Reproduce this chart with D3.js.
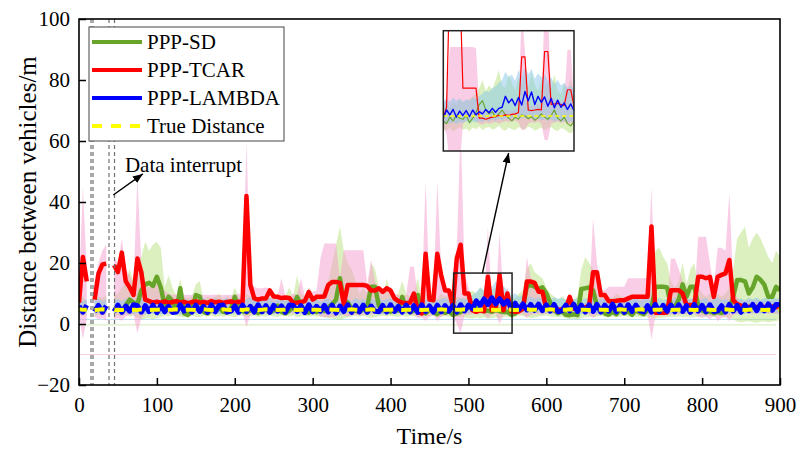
<!DOCTYPE html>
<html><head><meta charset="utf-8">
<script src="https://cdn.jsdelivr.net/npm/d3@7"></script>
<style>
body{margin:0;background:#fff}
svg{display:block}
text{font-family:"Liberation Serif","Times New Roman",serif;fill:#000}
</style>
</head><body>
<svg id="chart" width="797" height="450"></svg>
<script>
// ---------------- DATA ----------------
const time = d3.range(0, 901, 5);           // seconds, 5 s grid
const seriesNames = ["PPP-SD", "PPP-TCAR", "PPP-LAMBDA", "True Distance"];
const xTicks = [0, 100, 200, 300, 400, 500, 600, 700, 800, 900];
const yTicks = [-20, 0, 20, 40, 60, 80, 100];

const sdValues = [
5.0,4.5,5.2,null,4.8,5.5,4.6,5.1,null,4.4,
5.0,4.2,6.0,8.0,7.0,6.5,11.0,13.0,13.5,12.5,
15.5,12.0,6.0,8.9,7.5,4.0,11.7,3.5,3.0,4.5,
9.5,9.0,4.0,3.5,4.8,4.2,5.5,4.0,3.8,5.0,
8.9,5.0,4.2,3.8,4.5,5.2,3.6,4.3,5.0,3.8,
4.5,6.0,4.0,3.5,4.4,5.5,8.9,6.0,4.2,3.7,
4.6,3.9,5.0,4.2,5.5,6.5,8.0,15.0,8.0,7.0,
5.0,4.3,4.0,4.8,5.5,12.2,12.2,6.0,4.5,5.2,
4.0,5.0,4.4,8.9,5.0,3.8,4.5,9.5,4.2,3.5,
4.8,4.0,3.2,4.5,3.6,4.2,3.0,3.5,4.0,4.5,
5.5,6.8,4.8,4.6,4.2,4.4,4.0,4.6,4.2,3.9,
4.0,3.0,3.4,4.5,5.5,12.2,12.8,12.2,11.5,12.0,
10.0,7.0,4.5,3.5,4.2,3.0,2.9,3.2,2.9,11.5,
11.7,12.0,11.0,6.0,4.5,3.5,3.0,4.0,3.2,4.8,
3.5,4.2,3.0,4.5,3.8,3.2,4.6,5.0,12.2,12.2,
12.2,12.0,6.0,5.5,8.0,13.0,9.0,12.2,12.2,6.0,
4.5,3.8,4.2,3.5,4.0,3.6,4.4,5.0,9.0,14.4,
14.4,14.0,10.0,12.0,15.5,14.5,12.8,8.9,8.9,12.2,
11.0];

const tcarValues = [
7,22,14,null,8,16.5,19.5,19.8,null,19.3,
17,23.4,14,12,9.5,21.5,17,8,7.5,7,
7.3,7.0,7.4,6.9,7.2,7.5,7.0,7.3,6.8,7.2,
7.4,7.0,7.2,6.9,7.5,7.1,7.3,6.9,7.2,7.4,
7.0,7.3,7.1,42,12.8,8.4,8.0,8.4,8.4,11,
9,8.9,8.5,8.7,8.5,7,7,7.2,7.5,10.5,
8,8.9,8.9,9,12.8,13.8,13.8,13.5,6.5,12.8,
12.8,12.8,12.8,12.8,12.5,11,11,11.7,10.5,11.7,
11,8.4,7.5,7,6.8,7,10,4,3.5,23,
8,7.8,23,16,11,11,6,21.5,26,10,
10,4.5,4,4.5,4.2,15.5,4.5,4.8,16,4.5,
10,4.2,4,4.2,5,13.9,13.9,13.5,10.6,10.6,
5,4.6,4.8,4.6,4.8,5,8.9,5,5.2,5,
5.5,6,17,17,9.5,9.5,7.5,7.5,7.6,7.8,
7.8,8.4,8.9,8.9,8.9,8.9,8.9,32,3.7,3.7,
3.7,3.8,11.1,11.1,11.1,10,6.2,6.2,6.2,15.5,
15.5,15,15.5,8.9,15.5,16.1,16.6,21,7.8,6.5,
6,5.8,5.6,5.7,5.5,5.8,5.6,5.5,5.7,5.6,
5.6];

const lambdaValues = [
5.9,3.9,6.2,null,4.0,6.1,3.8,6.0,null,4.1,
6.2,3.8,5.9,4.2,6.3,6.0,3.9,6.0,4.1,6.2,
3.7,6.1,4.0,5.8,3.8,3.9,6.3,4.2,5.9,3.9,
6.2,4.1,5.8,3.8,6.3,4.0,6.1,6.2,3.9,4.2,
5.9,3.8,6.2,4.1,5.8,3.9,6.3,4.0,6.0,3.8,
6.1,4.2,5.9,3.8,6.2,6.1,4.1,6.0,3.7,6.3,
4.0,5.8,4.2,6.1,3.9,6.2,3.6,5.9,4.1,6.3,
3.8,6.0,4.0,6.2,3.8,5.9,4.2,4.0,6.1,3.9,
6.3,4.1,5.8,3.9,6.2,4.0,6.0,3.8,6.3,4.1,
5.9,3.9,6.2,4.0,6.0,4.2,6.1,3.9,6.3,4.3,
6.2,5.0,7.6,6.0,8.2,6.4,8.6,6.6,8.3,6.5,
7.6,5.2,6.8,4.8,6.6,4.6,6.4,4.5,6.5,4.4,
6.3,4.2,6.4,4.0,4.3,6.2,4.3,6.5,4.1,6.2,
3.9,6.3,4.1,6.4,3.9,6.2,4.2,6.5,4.0,6.1,
3.8,6.3,4.1,6.2,4.3,4.0,6.0,3.9,6.4,4.0,
6.1,4.2,6.2,4.0,6.3,4.1,6.0,3.8,6.4,4.2,
6.1,4.0,6.3,4.1,4.3,6.0,3.9,6.4,4.2,6.1,
3.8,6.3,4.4,6.4,4.4,6.5,4.3,6.6,4.5,6.4,
6.3];

const trueValues = [
4.8,4.7,4.7,null,4.6,4.7,4.8,4.7,null,4.6,
4.7,4.6,4.8,4.7,4.7,4.6,4.8,4.7,4.6,4.7,
4.7,4.8,4.6,4.7,4.7,4.8,4.7,4.6,4.7,4.7,
4.6,4.7,4.8,4.7,4.6,4.7,4.7,4.8,4.7,4.6,
4.7,4.7,4.6,4.8,4.7,4.7,4.6,4.7,4.8,4.7,
4.7,4.6,4.7,4.7,4.8,4.7,4.6,4.7,4.7,4.8,
4.7,4.7,4.6,4.7,4.8,4.7,4.7,4.6,4.7,4.7,
4.8,4.7,4.6,4.7,4.7,4.8,4.7,4.7,4.6,4.7,
4.7,4.8,4.7,4.6,4.7,4.7,4.8,4.7,4.6,4.7,
4.7,4.6,4.7,4.8,4.7,4.7,4.6,4.7,4.7,4.8,
4.7,4.7,4.6,4.7,4.8,4.7,4.7,4.6,4.7,4.7,
4.8,4.7,4.6,4.7,4.7,4.8,4.7,4.7,4.6,4.7,
4.7,4.8,4.7,4.6,4.7,4.7,4.8,4.7,4.6,4.7,
4.7,4.6,4.7,4.8,4.7,4.7,4.6,4.7,4.7,4.8,
4.7,4.7,4.6,4.7,4.8,4.7,4.7,4.6,4.7,4.7,
4.8,4.7,4.6,4.7,4.7,4.8,4.7,4.7,4.6,4.7,
4.7,4.8,4.7,4.6,4.7,4.7,4.8,4.7,4.6,4.7,
4.7,4.6,4.7,4.8,4.7,4.7,4.6,4.7,4.7,4.8,
4.7];

// uncertainty envelopes (upper / lower bounds)
const sdUpper = [
8,9,7.5,null,8,9,8.5,9.5,null,9,
10,12,14,18,14,20,22,27,24,26,
27,25,12,16,12,9,15,9,8.5,9,
13,14,8,9,8.5,9,10,8,9,8.5,
12,9,8,10,9,8.5,9,8,10,8.5,
9,10,8,9,12,9,16,10,9,12,
9,10,9,12,14,20,26,32,24,20,
18,14,10,12,10,20,18,12,9,15,
10,9,10,14,10,9,10,15,9,10,
9,10,8,10,9,10,8,9,8.5,9,
10,11,10,12,11,13,11,12,11,10,
10,9,8.5,10,11,18,20,17,16,15,
12,10,9,8,9,8,7.5,8,9,18,
22,20,18,10,9,8,9,8.5,10,9,
9,8.5,10,9,8,9,10,12,24,25,
22,20,14,12,14,20,13,18,20,12,
10,9,10,9,10,9,10,12,18,28,
30,32,25,28,30,28,25,22,20,24,
22];
const sdLower = [
3,2.8,3,null,2.5,3,2.8,3.2,null,2.9,
2.8,2.5,3,2.5,2.8,2,1.5,1.8,2,1.5,
2,2.2,2.8,2.5,3,2.6,2.4,2.2,2.1,2.6,
2.4,2.2,2.7,2.5,2.8,2.3,2.6,2.4,2.7,2.5,
2.3,2.6,2.8,2.4,2.5,2.7,2.2,2.6,2.4,2.8,
2.5,2.3,2.7,2.6,2.4,2.8,2.2,2.5,2.7,2.4,
2.6,2.4,2.5,2.2,2.0,1.8,1.5,1.2,1.8,2.2,
2.5,2.7,2.4,2.6,2.3,2.0,2.2,2.5,2.7,2.4,
2.6,2.5,2.3,2.7,2.4,2.6,2.5,2.2,2.4,2.6,
2.4,2.7,2.5,2.3,2.6,2.4,2.2,2.5,2.3,2.1,
2.0,1.8,2.1,1.9,2.2,1.8,2.0,2.1,1.9,2.2,
2.5,2,2.4,2.8,2.6,2.3,2,2.1,2.4,2.6,
2.8,2.5,2.4,2.2,2.4,1.8,1.6,1.7,1.5,2,
2.2,2.4,2.3,2.5,2.6,2.4,2.2,2.5,2.3,2.4,
2.6,2.3,2.5,2.4,2.2,2.5,2.3,2.1,1.8,2.0,
2.1,2.3,2.4,2.2,2.5,2.3,2.4,2.1,2.2,2.4,
2.5,2.4,2.6,2.3,2.5,2.4,2.2,2,1.5,0.8,
0.5,0.8,1,0.6,0.4,0.7,0.9,0.5,0.8,1,
1.2];
const tcarUpper = [
12,45,18,null,14,20,24,26,null,22,
20,28,18,16,13,48,20,13,12,12.5,
13,12.5,11,10,9.5,9.8,9.5,9.5,9.6,9.5,
9.5,9.5,9.6,9.5,9.5,9.7,9.5,9.5,9.6,9.5,
9.5,10,9,60,14,12.2,11.7,11.7,12,11.7,
9.5,9.2,15,9,9,10,9.5,15,9,12,
10.5,11,21.5,26.4,26.4,26.4,26.4,15,24.2,24.2,
24.2,24.2,24.2,24.2,13,21,14,12,11,12.5,
12,10,9.5,9,9.5,18.8,18.8,9,8,47,
10,9,47,18,12,12,8,24,65,17,
12,7,6.5,7,7,32,7,7.5,30,8,
12,7,6.5,7,7.5,22,15,14.5,12,11,
6,5.5,6,5.8,6,6,10,6.5,6.5,6.5,
7,8,34.6,20,11,11,12.2,12.2,12.2,12.2,
12.2,15,15,15,15,15,15,45,5.5,5.5,
5.5,6,21.5,21.5,18,14,8,8,8,28.6,
28.6,28.6,20,12,25,25,24,42.8,12,8.5,
8,7.5,8,7.6,8,7.5,7.8,7.6,7.5,7.8,
7.8];
const tcarLower = [
3,-5,2,null,2.5,1.5,2,1,null,1.5,
2,1,2.5,3,3,-3,2,3.2,3.4,3.5,
3.5,3.4,3.6,3.3,3.5,3.7,3.4,3.6,3.5,3.3,
3.6,3.4,3.5,3.7,3.3,3.5,3.6,3.4,3.5,3.6,
3.5,3.4,3.6,-1,3,3.2,3.5,3.4,3.3,3.2,
3.4,3.5,3.3,3.5,3.6,3.4,3.5,3.3,3.4,3.2,
3.5,3.3,2.5,2.2,2.2,2.3,2.4,3,2.8,2.5,
2.8,3,2.8,3,3.2,3,3.3,3.4,3.2,3.5,
3.2,3.4,3.5,3.3,3.4,3.1,3,2,2.2,1,
2.5,3,1,2.5,3,3.2,3,0,-3,3,
3,3.2,3.1,3.3,3.2,1.8,3.1,3.3,0,3.2,
3,3.2,3.3,3.1,3.3,2,3,3.2,3.3,3.1,
3.3,3.5,3.2,3.4,3.3,3.5,3.2,3.4,3.3,3.5,
3.2,3,2,3.1,3.3,3.2,3.4,3.3,3.2,3.5,
3.3,3.2,3.4,3.3,3.1,3.2,3.3,-5,2.5,2.8,
2.8,3,3.2,3,3.1,3.3,3.2,3.4,3.3,2.5,
2,2.5,1.5,2.8,1,2,2.5,1,3,3.3,
3.4,3.5,3.3,3.5,3.4,3.6,3.5,3.4,3.5,3.3,
3.4];
const lambdaUpper = [
8,7.5,8.2,null,7.6,8.4,7.4,8.2,null,7.8,
8.3,7.4,8.1,8.6,7.5,8.0,8.5,7.4,8.2,7.7,
8.3,7.3,7.9,8.5,7.6,8.1,7.2,8.4,7.8,7.4,
8.2,7.7,8.6,7.3,8.0,8.3,7.5,8.0,8.5,7.6,
8.0,8.4,7.3,8.1,8.6,7.6,7.5,8.3,7.9,8.5,
7.3,8.1,8.4,7.5,8.0,8.6,7.4,8.2,7.7,8.3,
7.8,8.5,7.2,8.0,8.3,7.5,8.4,7.1,8.0,8.3,
7.5,8.5,7.8,8.2,7.3,8.3,7.9,8.6,7.6,8.1,
8.4,7.4,8.0,8.4,7.7,8.5,7.5,8.2,8.7,7.8,
8.1,8.5,7.6,8.2,8.5,7.9,8.2,7.7,8.5,8.0,
8.5,9.5,10.5,12,11,13.5,12,14,11.5,12.5,
11,9.5,10,9,9.5,8.5,9,8.2,8.8,8.3,
8.6,8.0,8.8,8.2,8.5,7.9,8.7,8.1,8.4,7.7,
8.5,8.0,8.7,7.6,8.3,8.1,8.6,7.9,8.4,7.4,
8.5,8.0,8.2,8.7,7.7,8.1,8.6,7.3,8.0,8.5,
7.8,8.3,7.6,8.6,8.0,7.4,8.4,8.2,8.7,7.7,
8.1,8.5,7.2,8.2,8.6,7.9,8.3,7.5,8.7,8.0,
8.4,7.8,8.6,8.1,8.8,7.9,8.5,8.2,8.9,8.3,
8.5];
const lambdaLower = [
3.6,3.2,3.9,null,3.4,3.8,3.1,3.7,null,3.3,
3.9,3.0,3.6,4.0,3.2,3.5,3.9,3.1,3.6,3.3,
3.8,3.0,3.4,3.9,3.2,3.6,2.9,3.8,3.4,3.1,
3.7,3.3,3.9,3.0,3.5,3.8,3.1,3.6,3.9,3.2,
3.5,3.8,3.0,3.6,3.9,3.3,3.1,3.7,3.4,3.9,
3.0,3.6,3.8,3.2,3.5,3.9,3.0,3.6,3.3,3.7,
3.4,3.9,2.8,3.6,3.7,3.2,3.8,2.7,3.5,3.7,
3.1,3.9,3.4,3.6,3.0,3.7,3.5,3.9,3.2,3.6,
3.8,3.0,3.5,3.7,3.3,3.9,3.1,3.6,3.9,3.4,
3.6,3.8,3.2,3.6,3.9,3.4,3.6,3.2,3.8,3.5,
3.6,3.9,4.1,4.4,4.0,4.6,4.2,4.8,4.1,4.4,
4.0,3.8,4.0,3.7,3.9,3.6,3.8,3.5,3.9,3.6,
3.8,3.4,3.9,3.6,3.8,3.3,3.9,3.5,3.7,3.2,
3.8,3.5,3.9,3.2,3.7,3.5,3.8,3.3,3.7,3.1,
3.8,3.4,3.6,3.9,3.3,3.5,3.8,3.0,3.5,3.8,
3.3,3.7,3.2,3.8,3.5,3.1,3.7,3.6,3.9,3.3,
3.6,3.8,3.0,3.6,3.9,3.4,3.7,3.2,3.9,3.5,
3.7,3.3,3.8,3.6,3.9,3.4,3.8,3.6,4.0,3.7,
3.8];

// faint constant levels of the envelopes
const refLevels = [
  {v: 1.5, key: "lambda"},
  {v: -0.3, key: "sd"},
  {v: -10, key: "tcar"}
];
// data interruption markers (s)
const interruptTimes = [15.4, 18, 38.5, 45.6];

// zoomed inset (2 s grid, 480-560 s)
const insetTime = d3.range(480, 561, 2);
const insetLambda = [4.0,5.5,4.6,5.6,4.2,5.3,4.5,5.4,4.3,5.5,4.6,5.2,4.8,5.6,5.0,5.8,5.1,5.8,6.0,8.0,6.8,7.5,6.3,7.8,6.4,8.9,7.2,8.8,6.5,8.0,6.9,7.9,6.2,7.6,5.9,7.3,6.0,6.8,5.6,6.6,5.4];
const insetTcar = [4,6,30,30,30,30,9.5,9.5,9.5,9.5,9.5,4.0,4.0,3.8,4.0,4.2,4.3,4.5,4.4,4.6,4.5,4.7,4.8,5.0,15.2,15.2,5.5,5.4,5.5,5.6,5.5,16.2,16.2,6.5,6.6,6.7,6.5,6.3,9.2,9.2,6.2];
const insetSd = [3.5,3.0,4.2,3.5,4.5,4.0,3.8,4.5,3.2,4.0,5.0,6.5,7.2,5.5,4.8,5.2,4.2,4.8,5.5,4.6,4.0,3.5,4.2,3.8,4.6,4.4,3.9,4.3,3.6,4.1,4.8,4.2,3.8,4.5,5.5,4.0,3.5,4.2,3.0,2.6,3.4];
const insetTrue = [4.4,4.4,4.4,4.4,4.4,4.4,4.4,4.4,4.4,4.4,4.4,4.4,4.4,4.4,4.4,4.4,4.4,4.4,4.4,4.4,4.4,4.4,4.4,4.4,4.4,4.4,4.4,4.4,4.4,4.4,4.4,4.4,4.4,4.4,4.4,4.4,4.4,4.4,4.4,4.4,4.4];
const insetTcarUpper = [6,8,17,17,17,17,17,17,17,17,16.8,6,5.5,5.2,5.5,5.0,5.3,5.2,5.4,5.6,5.3,5.4,5.5,6,24,16,6.5,6.2,6.8,6.5,7,24,24,8,7.5,7.2,7,7.5,16.5,16.5,7];
const insetTcarLower = [2.5,1,-5,-5,-5,-5,3,3.5,3.7,3.7,3.5,3.0,2.8,3.2,3.0,3.1,3.3,3.0,3.2,3.5,3.3,3.4,3.6,3.2,1.8,2,3.0,3.3,3.1,3.5,3,0,0,3,3.2,3.4,3.1,3.3,3,3,3.4];
const insetSdUpper = [6,6.5,6,7,6.5,7.5,6.8,7,7.5,8,8.5,9.5,11,9,10,9.2,11,12.8,10,9.5,12,10.5,9,11.5,10,12.2,9.5,12.5,10,9,11,9.8,10.5,9.5,12,9,8.5,10.5,9,11.5,8];
const insetSdLower = [2.0,1.8,2.2,1.5,2.0,2.4,1.9,2.1,1.6,2.3,2.0,2.5,1.8,2.2,2.4,1.9,2.1,2.6,2.0,1.7,2.3,2.0,1.8,2.4,2.1,1.9,2.5,2.2,1.7,2.0,2.3,1.8,2.1,2.4,1.9,1.6,2.2,2.0,1.5,1.2,1.8];
const insetLambdaUpper = [7,7.5,7,7.8,7.2,7.6,7,7.5,7.2,7.8,7.5,8,8.5,9,8.8,9.5,9.8,10.5,11,12.5,11.5,12,10.8,12.8,11.5,13.4,12,13,11.2,12.2,11.5,12,10.8,11.5,10.2,11,10,10.5,9.5,10,9];
const insetLambdaLower = [2.8,3.2,3.0,3.4,2.9,3.3,3.1,3.5,3.0,3.4,3.2,3.6,3.3,3.7,3.4,3.8,3.5,3.9,3.6,4.0,3.7,4.1,3.8,4.2,3.9,4.3,3.8,4.1,3.7,4.0,3.6,3.9,3.5,3.8,3.4,3.7,3.3,3.6,3.2,3.5,3.1];

const zoomWindow = {t: [481, 556], v: [-3, 16.7]};
const insetDomain = {t: [480, 560], v: [-2, 20]};
const interruptNote = {text: "Data interrupt", textAt: [59, 49.8], from: [44, 42.3], to: [82, 49.2]};

// ---------------- STYLE / LAYOUT ----------------
const FONT = '"Liberation Serif","Times New Roman",serif';
const COLORS = {sd: "#67a52a", tcar: "#ff0000", lambda: "#0000ff", truth: "#ffff00"};
const BAND = {sd: "rgba(175,222,110,0.45)", tcar: "rgba(246,155,205,0.5)", lambda: "rgba(135,200,235,0.5)"};
const REF = {sd: "#d3eab3", tcar: "#f9d0e3", lambda: "#b9ddf1"};
const plot = {left: 79, right: 780, top: 19, bottom: 385};
const inset = {x: 443.3, y: 30.7, w: 130.7, h: 120.3};

const svg = d3.select("#chart");
const x = d3.scaleLinear().domain([0, 900]).range([plot.left, plot.right]);
const y = d3.scaleLinear().domain([-20, 100]).range([plot.bottom, plot.top]);

const defs = svg.append("defs");
defs.append("clipPath").attr("id", "plotClip").append("rect")
  .attr("x", plot.left).attr("y", plot.top)
  .attr("width", plot.right - plot.left).attr("height", plot.bottom - plot.top);
defs.append("clipPath").attr("id", "insetClip").append("rect")
  .attr("x", 0).attr("y", 0).attr("width", inset.w).attr("height", inset.h);
defs.append("marker").attr("id", "arrow").attr("viewBox", "0 0 10 8")
  .attr("refX", 10).attr("refY", 4).attr("markerWidth", 10).attr("markerHeight", 8)
  .attr("markerUnits", "userSpaceOnUse").attr("orient", "auto")
  .append("path").attr("d", "M0,0L10,4L0,8Z").attr("fill", "#000");

function drawSeries(g, xs, ys, t, sets, widths) {
  const area = d3.area().defined(d => d.lo != null && d.hi != null)
    .x(d => xs(d.t)).y0(d => ys(d.lo)).y1(d => ys(d.hi));
  const line = d3.line().defined(d => d.v != null).x(d => xs(d.t)).y(d => ys(d.v));
  ["sd", "tcar", "lambda"].forEach(k => {
    const rows = t.map((tt, i) => ({t: tt, lo: sets[k].lo[i], hi: sets[k].hi[i]}));
    g.append("path").attr("d", area(rows)).attr("fill", BAND[k]).attr("stroke", "none");
  });
  ["sd", "tcar", "lambda", "truth"].forEach(k => {
    const rows = t.map((tt, i) => ({t: tt, v: sets[k].v[i]}));
    const p = g.append("path").attr("d", line(rows)).attr("fill", "none")
      .attr("stroke", COLORS[k]).attr("stroke-width", widths[k])
      .attr("stroke-linejoin", "round");
    if (k === "truth") p.attr("stroke-dasharray", widths.dash);
  });
}

// ---- main plot ----
const main = svg.append("g").attr("clip-path", "url(#plotClip)");
refLevels.forEach(r => {
  main.append("line").attr("x1", x(0)).attr("x2", x(895))
    .attr("y1", y(r.v)).attr("y2", y(r.v))
    .attr("stroke", REF[r.key]).attr("stroke-width", 1);
});
drawSeries(main, x, y, time, {
  sd: {v: sdValues, lo: sdLower, hi: sdUpper},
  tcar: {v: tcarValues, lo: tcarLower, hi: tcarUpper},
  lambda: {v: lambdaValues, lo: lambdaLower, hi: lambdaUpper},
  truth: {v: trueValues}
}, {sd: 4.5, tcar: 4.5, lambda: 5, truth: 4, dash: "10,8"});

interruptTimes.forEach(t => {
  main.append("line").attr("x1", x(t)).attr("x2", x(t))
    .attr("y1", plot.top).attr("y2", plot.bottom)
    .attr("stroke", "#707070").attr("stroke-width", 1.2).attr("stroke-dasharray", "4,3");
});

// zoom window rectangle
svg.append("rect")
  .attr("x", x(zoomWindow.t[0])).attr("y", y(zoomWindow.v[1]))
  .attr("width", x(zoomWindow.t[1]) - x(zoomWindow.t[0]))
  .attr("height", y(zoomWindow.v[0]) - y(zoomWindow.v[1]))
  .attr("fill", "none").attr("stroke", "#222").attr("stroke-width", 1.5);

// ---- axes ----
const xAxis = svg.append("g").attr("transform", `translate(0,${plot.bottom})`)
  .call(d3.axisBottom(x).tickValues(xTicks).tickSizeInner(-7).tickSizeOuter(0).tickPadding(12));
const yAxis = svg.append("g").attr("transform", `translate(${plot.left},0)`)
  .call(d3.axisLeft(y).tickValues(yTicks).tickSizeInner(-7).tickSizeOuter(0).tickPadding(9));
[xAxis, yAxis].forEach(a => {
  a.attr("font-family", null).attr("font-size", null);
  a.select(".domain").remove();
  a.selectAll(".tick line").attr("stroke", "#000").attr("stroke-width", 1.5);
  a.selectAll(".tick text").style("font-family", FONT).style("font-size", "21px").attr("fill", "#000");
});
svg.append("rect").attr("x", plot.left).attr("y", plot.top)
  .attr("width", plot.right - plot.left).attr("height", plot.bottom - plot.top)
  .attr("fill", "none").attr("stroke", "#000").attr("stroke-width", 1.6);

svg.append("text").attr("x", (plot.left + plot.right) / 2).attr("y", 444)
  .attr("text-anchor", "middle").style("font-size", "24px").text("Time/s");
svg.append("text").attr("transform", `translate(36,${(plot.top + plot.bottom) / 2}) rotate(-90)`)
  .attr("text-anchor", "middle").style("font-size", "25px").text("Distance between vehicles/m");

// data interrupt note
svg.append("text").attr("x", x(interruptNote.textAt[0])).attr("y", y(interruptNote.textAt[1]))
  .style("font-size", "21px").text(interruptNote.text);
svg.append("line")
  .attr("x1", x(interruptNote.from[0])).attr("y1", y(interruptNote.from[1]))
  .attr("x2", x(interruptNote.to[0])).attr("y2", y(interruptNote.to[1]))
  .attr("stroke", "#000").attr("stroke-width", 1.4).attr("marker-end", "url(#arrow)");

// ---- inset ----
const ix = d3.scaleLinear().domain(insetDomain.t).range([0, inset.w]);
const iy = d3.scaleLinear().domain(insetDomain.v).range([inset.h, 0]);
const ig = svg.append("g").attr("transform", `translate(${inset.x},${inset.y})`);
ig.append("rect").attr("width", inset.w).attr("height", inset.h).attr("fill", "#fff");
const igc = ig.append("g").attr("clip-path", "url(#insetClip)");
drawSeries(igc, ix, iy, insetTime, {
  sd: {v: insetSd, lo: insetSdLower, hi: insetSdUpper},
  tcar: {v: insetTcar, lo: insetTcarLower, hi: insetTcarUpper},
  lambda: {v: insetLambda, lo: insetLambdaLower, hi: insetLambdaUpper},
  truth: {v: insetTrue}
}, {sd: 1.1, tcar: 1.2, lambda: 1.4, truth: 1.4, dash: "4,3"});
ig.append("rect").attr("width", inset.w).attr("height", inset.h)
  .attr("fill", "none").attr("stroke", "#222").attr("stroke-width", 1.5);

// arrow from zoom window to inset
svg.append("line")
  .attr("x1", x(518)).attr("y1", y(zoomWindow.v[1]))
  .attr("x2", inset.x + ix(520)).attr("y2", inset.y + inset.h + 2)
  .attr("stroke", "#000").attr("stroke-width", 1.4).attr("marker-end", "url(#arrow)");

// ---- legend ----
const lg = svg.append("g");
lg.append("rect").attr("x", 89).attr("y", 27).attr("width", 195).attr("height", 114)
  .attr("fill", "#fff").attr("stroke", "#444").attr("stroke-width", 1);
const keys = ["sd", "tcar", "lambda", "truth"];
seriesNames.forEach((name, i) => {
  const yy = 42 + i * 28;
  const l = lg.append("line").attr("x1", 92).attr("x2", 142).attr("y1", yy).attr("y2", yy)
    .attr("stroke", COLORS[keys[i]]).attr("stroke-width", 4);
  if (keys[i] === "truth") l.attr("stroke-dasharray", "10,9");
  lg.append("text").attr("x", 147).attr("y", yy + 7).style("font-size", "21px").text(name);
});
</script>
</body></html>
